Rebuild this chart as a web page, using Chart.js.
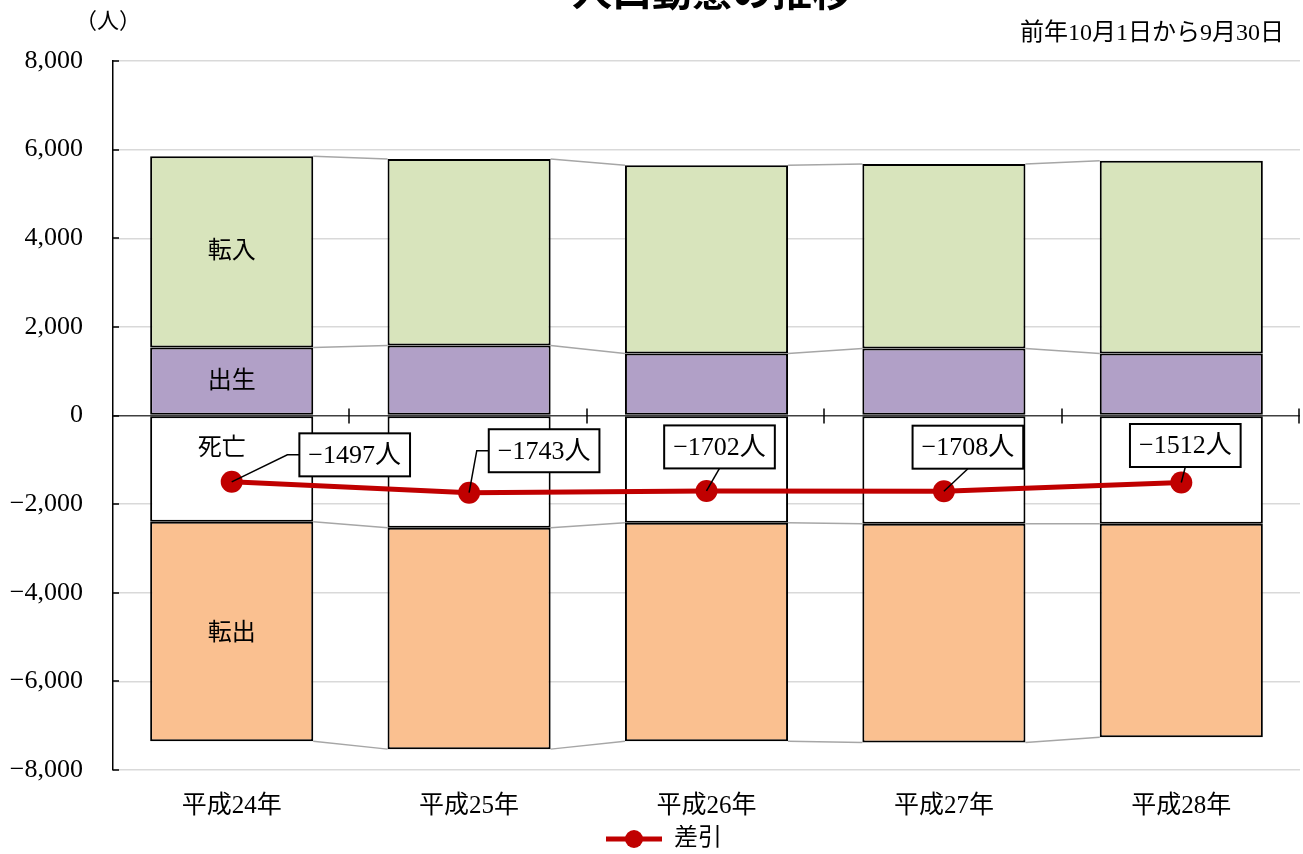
<!DOCTYPE html>
<html>
<head>
<meta charset="utf-8">
<script src="https://cdn.jsdelivr.net/npm/chart.js@4.4.1/dist/chart.umd.min.js"></script>
<style>
  html, body { margin: 0; padding: 0; background: #fff; }
</style>
</head>
<body>
<canvas id="chart" width="1303" height="854"></canvas>
<script>
// data
const years = ["平成24年", "平成25年", "平成26年", "平成27年", "平成28年"];
const births = [1537, 1582, 1401, 1514, 1401];
const moveIn = [4316, 4204, 4249, 4159, 4346];
const deaths = [2396, 2531, 2418, 2441, 2441];
const moveOut = [4954, 4998, 4934, 4940, 4818];
const netChange = [-1497, -1743, -1702, -1708, -1512];
const yMin = -8000, yMax = 8000, yStep = 2000;

// where the value boxes sit relative to their point (layout only)
const boxOffsets = [
  { dx: 123, dy: -27, side: true },
  { dx: 75, dy: -42, side: true },
  { dx: 13, dy: -44, side: false },
  { dx: 24, dy: -44, side: false },
  { dx: 4, dy: -37, side: false }
];

const FONT = '"Liberation Serif", "Noto Sans CJK JP", serif';
Chart.defaults.font.family = FONT;
Chart.defaults.color = "#000";

const sign = v => (v < 0 ? "\u2212" : "");
const tickText = v => sign(v) + Math.abs(v).toLocaleString("en-US");

// legend marker: line with a dot
const legendMark = document.createElement("canvas");
legendMark.width = 56; legendMark.height = 22;
(function () {
  const c = legendMark.getContext("2d");
  c.strokeStyle = "#C00000"; c.lineWidth = 5;
  c.beginPath(); c.moveTo(0, 11); c.lineTo(56, 11); c.stroke();
  c.fillStyle = "#C00000";
  c.beginPath(); c.arc(28, 11, 9, 0, Math.PI * 2); c.fill();
})();

const extras = {
  id: "extras",
  afterLayout(chart) {
    // legend sits a little right of the canvas centre in the reference
    if (chart.legend) { chart.legend.left += 14; chart.legend.right += 14; }
  },
  beforeDatasetsDraw(chart) {
    const ctx = chart.ctx, y = chart.scales.y, x = chart.scales.x;
    ctx.save();
    // series lines between bar edges
    ctx.strokeStyle = "#a6a6a6"; ctx.lineWidth = 1.5;
    for (let d = 0; d < 4; d++) {
      const els = chart.getDatasetMeta(d).data;
      for (let i = 0; i < els.length - 1; i++) {
        const a = els[i], b = els[i + 1];
        ctx.beginPath();
        ctx.moveTo(a.x + a.width / 2, a.y);
        ctx.lineTo(b.x - b.width / 2, b.y);
        ctx.stroke();
      }
    }
    // category ticks crossing the zero line
    const y0 = y.getPixelForValue(0);
    const half = (x.getPixelForValue(1) - x.getPixelForValue(0)) / 2;
    ctx.strokeStyle = "#000"; ctx.lineWidth = 1.5;
    years.forEach((_, i) => {
      const px = Math.round(x.getPixelForValue(i) + half) - 1;
      ctx.beginPath(); ctx.moveTo(px, y0 - 7); ctx.lineTo(px, y0 + 8); ctx.stroke();
    });
    ctx.restore();
  },
  afterDatasetsDraw(chart) {
    const ctx = chart.ctx, y = chart.scales.y;
    ctx.save();
    // names inside the first bar
    const bx = chart.getDatasetMeta(0).data[0].x;
    ctx.font = "24px " + FONT;
    ctx.fillStyle = "#000";
    ctx.textAlign = "center"; ctx.textBaseline = "middle";
    ctx.fillText("転入", bx, y.getPixelForValue(births[0] + moveIn[0] / 2));
    ctx.fillText("出生", bx, y.getPixelForValue(births[0] / 2));
    ctx.fillText("死亡", bx - 10, y.getPixelForValue(0) + 33);
    ctx.fillText("転出", bx, y.getPixelForValue(-(deaths[0] + moveOut[0] / 2)) + 2);

    // value boxes for 差引
    const pts = chart.getDatasetMeta(4).data;
    ctx.font = "26px " + FONT;
    pts.forEach((p, i) => {
      const o = boxOffsets[i];
      const txt = sign(netChange[i]) + Math.abs(netChange[i]) + "人";
      const w = ctx.measureText(txt).width + 18, h = 43;
      const cx = p.x + o.dx, cy = p.y + o.dy;
      const left = cx - w / 2, top = cy - h / 2;
      ctx.strokeStyle = "#000"; ctx.lineWidth = 1.5;
      ctx.beginPath();
      ctx.moveTo(p.x, p.y);
      if (o.side) { ctx.lineTo(left - 12, cy); ctx.lineTo(left, cy); }
      else { ctx.lineTo(cx, top + h); }
      ctx.stroke();
      ctx.fillStyle = "#fff";
      ctx.fillRect(left, top, w, h);
      ctx.lineWidth = 2;
      ctx.strokeRect(left, top, w, h);
      ctx.fillStyle = "#000";
      ctx.fillText(txt, cx, cy + 1);
    });
    ctx.restore();
  },
  afterDraw(chart) {
    const ctx = chart.ctx, y = chart.scales.y, area = chart.chartArea;
    ctx.save();
    // inside ticks on the value axis
    ctx.strokeStyle = "#000"; ctx.lineWidth = 1.5;
    y.ticks.forEach(t => {
      const py = Math.round(y.getPixelForValue(t.value));
      ctx.beginPath(); ctx.moveTo(area.left, py); ctx.lineTo(area.left + 6, py); ctx.stroke();
    });
    ctx.fillStyle = "#000";
    ctx.textBaseline = "alphabetic"; ctx.textAlign = "center";
    ctx.font = "bold 40px " + FONT;
    ctx.fillText("人口動態の推移", 712, 6);
    ctx.textBaseline = "middle";
    ctx.font = "22px " + FONT;
    ctx.fillText("（人）", 108, 22);
    ctx.textAlign = "right";
    ctx.font = "24px " + FONT;
    ctx.fillText("前年10月1日から9月30日", 1284, 34);
    ctx.restore();
  }
};

const barStyle = {
  borderColor: "#000",
  borderWidth: 2,
  borderSkipped: false,
  stack: "pop",
  barPercentage: 0.687,
  categoryPercentage: 1.0,
  order: 2
};

new Chart(document.getElementById("chart"), {
  type: "bar",
  data: {
    labels: years,
    datasets: [
      { ...barStyle, label: "出生", data: births, backgroundColor: "#B1A0C7" },
      { ...barStyle, label: "転入", data: moveIn, backgroundColor: "#D8E4BC" },
      { ...barStyle, label: "死亡", data: deaths.map(v => -v), backgroundColor: "#FFFFFF" },
      { ...barStyle, label: "転出", data: moveOut.map(v => -v), backgroundColor: "#FAC090" },
      {
        type: "line", label: "差引", data: netChange, stack: "net", order: 0,
        borderColor: "#C00000", borderWidth: 5, pointRadius: 11, pointHoverRadius: 11,
        pointBackgroundColor: "#C00000", pointBorderWidth: 0, tension: 0
      }
    ]
  },
  options: {
    responsive: false,
    animation: false,
    devicePixelRatio: 1,
    layout: { autoPadding: false, padding: { top: 61, right: 3, left: 0, bottom: -7 } },
    scales: {
      x: {
        stacked: true,
        grid: { display: false, drawTicks: false, tickLength: 0 },
        border: { display: false },
        ticks: { padding: 21, font: { size: 25 } },
        afterFit: s => { s.height = 55; s.paddingLeft = 0; s.paddingRight = 0; }
      },
      y: {
        stacked: true,
        min: yMin, max: yMax,
        ticks: { stepSize: yStep, padding: 30, font: { size: 26 }, callback: v => tickText(v) },
        grid: {
          drawTicks: false,
          lineWidth: 1.5,
          color: c => (c.tick && c.tick.value === 0 ? "#404040" : "#d9d9d9")
        },
        border: { color: "#000", width: 1.5 },
        afterFit: s => { s.width = 113; }
      }
    },
    plugins: {
      tooltip: { enabled: false },
      legend: {
        position: "bottom",
        labels: {
          usePointStyle: true,
          pointStyleWidth: 56,
          padding: 2,
          font: { size: 24 },
          generateLabels: () => [{
            text: "差引", pointStyle: legendMark, fillStyle: "#C00000",
            strokeStyle: "#C00000", lineWidth: 0, hidden: false, datasetIndex: 4, fontColor: "#000"
          }]
        }
      }
    }
  },
  plugins: [extras]
});
</script>
</body>
</html>
